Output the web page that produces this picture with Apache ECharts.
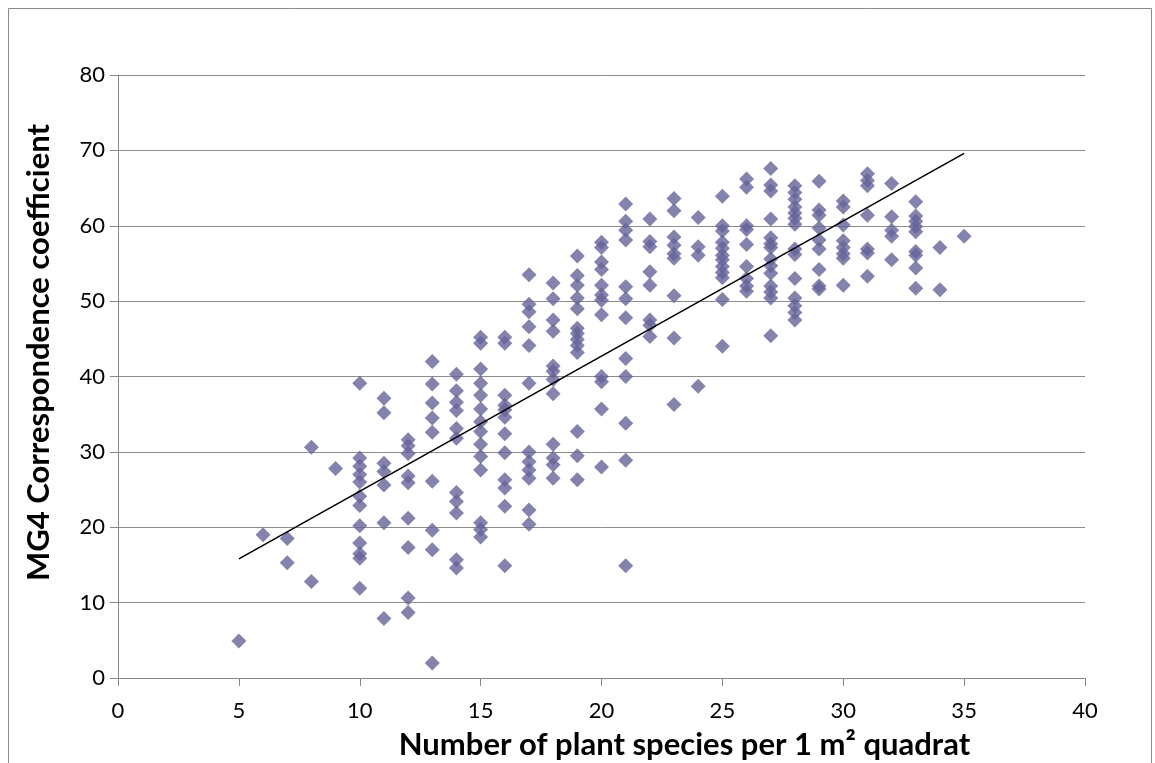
<!DOCTYPE html>
<html>
<head>
<meta charset="utf-8">
<script src="https://cdn.jsdelivr.net/npm/echarts@6/dist/echarts.min.js"></script>
<style>
  html, body { margin: 0; padding: 0; background: #fff; }
  #chart { width: 1155px; height: 763px; }
</style>
</head>
<body>
<div id="chart"></div>
<script>
// Species richness per quadrat (x) and MG4 correspondence coefficients observed at each value
const speciesCounts = [5, 6, 7, 8, 9, 10, 11, 12, 13, 14, 15, 16, 17, 18, 19, 20,
  21, 22, 23, 24, 25, 26, 27, 28, 29, 30, 31, 32, 33, 34, 35];

const coefficients = [
  [4.9],
  [19.0],
  [18.5, 15.3],
  [30.6, 12.8],
  [27.8],
  [39.1, 29.2, 28.1, 27.0, 26.0, 24.1, 22.9, 20.2, 17.9, 16.5, 15.9, 11.9],
  [37.1, 35.2, 28.5, 27.4, 25.6, 20.6, 7.9],
  [31.6, 30.8, 29.8, 26.8, 25.9, 21.2, 17.3, 10.6, 8.7],
  [42.0, 39.0, 36.5, 34.5, 32.6, 26.1, 19.6, 17.0, 2.0],
  [40.3, 38.1, 36.6, 35.5, 33.1, 31.8, 24.6, 23.4, 21.9, 15.7, 14.6],
  [45.2, 44.4, 41.0, 39.1, 37.5, 35.7, 34.0, 32.7, 31.0, 29.4, 27.6, 20.6, 19.7, 18.7],
  [45.2, 44.4, 37.5, 36.2, 35.6, 34.6, 32.4, 29.9, 26.3, 25.2, 22.8, 14.9],
  [53.5, 49.6, 48.6, 46.6, 44.1, 39.1, 30.0, 28.7, 27.6, 26.5, 22.3, 20.4],
  [52.4, 50.3, 47.5, 46.0, 41.4, 40.7, 39.6, 37.7, 31.0, 29.2, 28.3, 26.5],
  [56.0, 53.4, 52.1, 50.4, 49.0, 46.4, 45.7, 44.9, 44.1, 43.2, 32.7, 29.5, 26.3],
  [57.8, 57.1, 55.2, 54.2, 52.1, 50.8, 50.1, 48.2, 40.0, 39.3, 35.7, 28.0],
  [62.9, 60.6, 59.4, 58.1, 51.9, 50.3, 47.8, 42.4, 40.0, 33.8, 28.9, 14.9],
  [60.9, 57.9, 57.2, 53.9, 52.1, 47.5, 46.8, 45.3],
  [63.6, 62.0, 58.5, 57.4, 56.3, 55.7, 50.7, 45.1, 36.3],
  [61.1, 57.2, 56.1, 38.7],
  [63.9, 60.0, 59.3, 57.8, 57.0, 56.1, 55.5, 54.6, 53.8, 53.1, 50.2, 44.0],
  [66.2, 65.1, 60.0, 59.5, 57.5, 54.6, 53.0, 52.0, 51.3],
  [67.6, 65.4, 64.6, 60.9, 58.4, 57.6, 57.1, 55.6, 54.7, 53.7, 52.0, 51.2, 50.4, 45.4],
  [65.3, 64.4, 63.5, 62.5, 61.7, 61.0, 60.2, 56.9, 56.2, 53.0, 50.4, 49.4, 48.5, 47.5],
  [65.9, 62.1, 61.4, 59.7, 58.1, 56.9, 54.2, 52.0, 51.6],
  [63.3, 62.5, 60.1, 58.0, 57.1, 56.3, 55.7, 52.1],
  [66.9, 66.0, 65.3, 61.4, 56.9, 56.4, 53.3],
  [65.6, 61.2, 59.4, 58.6, 55.5],
  [63.2, 61.3, 60.6, 59.9, 59.2, 56.6, 56.1, 54.4, 51.7],
  [57.1, 51.5],
  [58.6]
];

// Linear trendline, given by its values at the ends of the species range
const trendX = [5, 35];
const trendY = [15.8, 69.6];

const xTicks = [0, 5, 10, 15, 20, 25, 30, 35, 40];
const yTicks = [0, 10, 20, 30, 40, 50, 60, 70, 80];

// Flatten the columns into [species, coefficient] pairs
const points = [];
speciesCounts.forEach((s, i) => {
  coefficients[i].forEach(v => points.push([s, v]));
});
const trend = trendX.map((x, i) => [x, trendY[i]]);

const labelFont = { fontFamily: 'Lato', fontSize: 22, color: '#000' };
const titleFont = { fontFamily: 'Lato', fontSize: 31, fontWeight: 'bold', color: '#000' };
const axisGray = '#868686';

const chart = echarts.init(document.getElementById('chart'), null, { renderer: 'canvas' });
chart.setOption({
  animation: false,
  backgroundColor: '#fff',
  graphic: [{
    type: 'rect',
    shape: { x: 8.5, y: 8.5, width: 1143, height: 770 },
    style: { fill: 'none', stroke: '#8a8a8a', lineWidth: 1 },
    silent: true
  }],
  grid: { left: 118, right: 70, top: 75, bottom: 85, outerBoundsMode: 'none', containLabel: false },
  xAxis: {
    type: 'value',
    min: xTicks[0],
    max: xTicks[xTicks.length - 1],
    interval: xTicks[1] - xTicks[0],
    name: 'Number of plant species per 1 m\u00B2 quadrat',
    nameLocation: 'middle',
    nameGap: 51,
    nameTextStyle: Object.assign({ padding: [0, 0, 0, 166] }, titleFont),
    axisLine: { show: true, lineStyle: { color: axisGray, width: 1 } },
    axisTick: { show: true, inside: false, length: 8, lineStyle: { color: axisGray } },
    axisLabel: Object.assign({ margin: 22 }, labelFont),
    splitLine: { show: false }
  },
  yAxis: {
    type: 'value',
    min: yTicks[0],
    max: yTicks[yTicks.length - 1],
    interval: yTicks[1] - yTicks[0],
    name: 'MG4 Correspondence coefficient',
    nameLocation: 'middle',
    nameGap: 64,
    nameTextStyle: Object.assign({ padding: [0, 0, 0, 48] }, titleFont),
    axisLine: { show: true, lineStyle: { color: axisGray, width: 1 } },
    axisTick: { show: true, inside: false, length: 8, lineStyle: { color: axisGray } },
    axisLabel: Object.assign({ margin: 13 }, labelFont),
    splitLine: { show: true, lineStyle: { color: '#8c8c8c', width: 1 } }
  },
  series: [
    {
      type: 'scatter',
      data: points,
      symbol: 'diamond',
      symbolSize: 15,
      itemStyle: { color: '#64649a' },
      z: 2
    },
    {
      type: 'line',
      data: trend,
      showSymbol: false,
      symbol: 'none',
      lineStyle: { color: '#000', width: 1.6 },
      z: 3
    }
  ]
});
</script>
</body>
</html>
